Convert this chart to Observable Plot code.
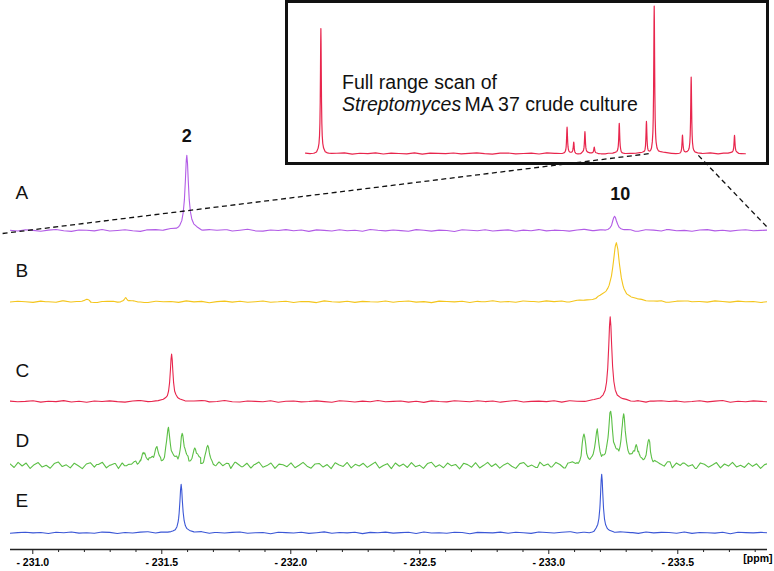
<!DOCTYPE html>
<html><head><meta charset="utf-8">
<script src="https://cdn.jsdelivr.net/npm/d3@7"></script>
<script src="https://cdn.jsdelivr.net/npm/@observablehq/plot@0.6"></script>
<style>
body{margin:0;background:#fff;}
#wrap{position:relative;width:774px;height:571px;overflow:hidden;font-family:"Liberation Sans",Arial,sans-serif;}
#inset{position:absolute;left:285px;top:0;width:484px;height:165px;border:3px solid #111;box-sizing:border-box;background:#fff;}
#main{position:absolute;left:0;top:0;}
#main svg g[aria-label="x-axis tick label"] text{font-weight:bold;}
</style></head><body>
<div id="wrap"><div id="inset"></div><div id="main"></div></div>
<script>
// ---------- data ----------
const traceNames = ["A", "B", "C", "D", "E"];
const traceColors = ["#b25ce6", "#f4c51c", "#e8264d", "#5bbf45", "#3b57d6"];
const majorTicks = [-231.0, -231.5, -232.0, -232.5, -233.0, -233.5];
const minorTicks = [-231.1, -231.2, -231.3, -231.4, -231.6, -231.7, -231.8, -231.9,
  -232.1, -232.2, -232.3, -232.4, -232.6, -232.7, -232.8, -232.9,
  -233.1, -233.2, -233.3, -233.4, -233.6, -233.7, -233.8];

// peaks: [ppm, height, half-width (ppm)]
const peaksA = [[-231.597, 75, 0.0078], [-233.255, 13.5, 0.010]];
const peaksB = [[-231.21, 2, 0.008], [-231.36, 4, 0.006], [-233.262, 57.5, 0.016], [-233.22, 3, 0.04]];
const peaksC = [[-231.538, 48.3, 0.0065], [-233.238, 85.3, 0.0078]];
const peaksD = [[-231.428, 15, 0.009], [-231.479, 17, 0.009], [-231.526, 34, 0.009], [-231.579, 30, 0.009],
  [-231.628, 16, 0.009], [-231.678, 18, 0.009],
  [-233.136, 27, 0.009], [-233.188, 32, 0.009], [-233.240, 53, 0.009], [-233.290, 51, 0.009],
  [-233.339, 21, 0.009], [-233.388, 22, 0.009]];
const peaksE = [[-231.575, 49, 0.0065], [-233.205, 58, 0.006]];

// baseline noise (px)
const noiseA = [0.3,-0.5,0.8,0.1,-0.7,0.4,1.0,-0.2,-0.9,0.5,0.2,-0.4,0.9,-0.6,0.0,0.7,-0.3,-1.0,0.4,0.6,
  -0.2,0.8,-0.5,0.1,0.9,-0.8,0.3,-0.1,0.6,-0.6,0.2,1.1,-0.4,-0.7,0.5,0.0,0.8,-0.3,0.4,-0.9,
  0.6,0.1,-0.5,0.7,-0.2,0.3,-0.8,1.0,0.2,-0.4,0.5,-0.1,-0.7,0.9,0.3,-0.6,0.4,0.0,-1.0,0.7,
  0.2,-0.3,0.8,-0.5,0.1,0.6,-0.8,0.4,-0.2,0.9,-0.4,0.3,0.0,-0.7,0.5,1.0,-0.3,0.2,-0.6,0.7,
  -0.1,0.4,-0.9,0.6,0.3,-0.5,0.8,-0.2,0.1,-0.7,0.5,0.9,-0.4,0.2,-0.6,0.3,0.7,-0.3,0.1,0.4];
const noiseB = [-0.2,0.5,0.1,-0.6,0.7,0.0,-0.4,0.9,-0.3,0.2,0.6,-0.8,0.3,0.4,-0.5,0.1,0.8,-0.2,-0.7,0.5,
  0.0,0.3,-0.6,0.9,-0.1,0.4,-0.9,0.2,0.7,-0.3,0.5,-0.5,0.1,0.8,-0.4,0.0,0.6,-0.7,0.3,0.2,
  -0.8,0.9,0.1,-0.3,0.5,-0.6,0.4,0.0,-0.2,0.7,-0.5,0.3,0.8,-0.4,0.1,-0.9,0.6,0.2,-0.1,0.5,
  -0.7,0.4,0.0,0.9,-0.3,0.2,-0.6,0.7,0.1,-0.4,0.6,-0.2,0.3,-0.8,0.5,0.1,-0.5,0.8,-0.1,0.2,
  -0.6,0.4,0.7,-0.3,0.0,0.5,-0.9,0.3,0.6,-0.2,0.1,-0.5,0.8,0.2,-0.4,0.6,-0.1,0.3,-0.7,0.2];
const noiseC = [0.4,-0.3,0.1,0.7,-0.6,0.2,-0.1,0.9,-0.5,0.3,-0.8,0.5,0.0,0.6,-0.2,-0.7,0.4,0.8,-0.4,0.1,
  0.3,-0.9,0.6,-0.1,0.2,0.7,-0.5,0.0,0.9,-0.3,-0.6,0.4,0.1,-0.2,0.8,-0.7,0.3,0.5,-0.4,0.0,
  0.6,-0.1,-0.8,0.7,0.2,-0.5,0.4,-0.3,1.0,-0.2,0.1,0.5,-0.6,0.3,-0.9,0.6,0.0,-0.4,0.8,0.2,
  -0.3,0.7,-0.1,0.4,-0.7,0.2,0.9,-0.5,0.1,0.3,-0.2,0.6,-0.8,0.5,0.0,-0.4,0.7,0.3,-0.6,0.1,
  0.8,-0.3,0.4,-0.9,0.2,0.6,-0.1,0.5,-0.5,0.0,0.7,-0.4,0.3,0.9,-0.7,0.2,-0.2,0.6,0.1,-0.3];
const noiseD = [1.5,-2.0,3.1,-0.5,2.4,-3.0,0.8,2.9,-1.6,0.2,-2.8,1.9,3.5,-1.1,0.6,-2.4,2.2,-0.3,-3.2,1.4,
  2.7,-1.8,0.9,3.0,-2.5,0.1,1.7,-3.4,2.0,-0.8,0.4,2.6,-1.3,-2.9,1.1,3.3,-0.6,0.7,-2.2,2.5,
  -1.0,1.8,-3.1,0.3,2.8,-1.7,-0.4,3.2,-2.6,1.2,0.0,-2.1,2.3,-0.9,1.6,-3.3,2.9,0.5,-1.4,2.1,
  -2.7,0.8,3.4,-1.9,-0.2,2.4,-3.0,1.3,0.6,-1.2,2.6,-2.3,0.2,3.1,-0.7,-2.8,1.5,2.0,-1.6,0.9,
  -3.2,2.7,0.4,-1.0,3.0,-2.4,1.1,-0.5,2.2,-1.9,0.7,3.3,-2.6,0.0,1.8,-3.1,2.5,-0.8,1.4,-2.0,
  2.9,-1.2,0.3,-2.9,1.9,3.2,-1.5,0.6,-2.3,2.4,-0.4,1.0,-3.4,2.1,0.8,-1.8,2.7,-2.5,0.1,3.0,
  -1.1,1.6,-2.7,0.5,2.3,-0.9,-3.0,1.7,2.8,-1.4,0.2,-2.2,3.1,-0.6,1.2,-1.9,2.6,0.4,-3.3,1.5,
  2.0,-0.8,-2.6,2.9,-1.3,0.7,1.8,-2.8,0.3,2.5,-1.7,3.4,-0.2,-2.1,1.0,2.2,-3.1,0.9,-0.5,2.7,
  -2.4,1.3,0.1,-1.6,3.0,-2.9,1.9,-0.3,2.1,-1.0,0.6,-3.2,2.4,1.1,-1.8,0.4,2.8,-2.5,1.4,-0.7,
  3.1,-1.5,0.2,-2.0,2.3,-0.9,1.6,-3.0,0.8,2.0];
const noiseE = [-0.4,0.2,0.6,-0.1,0.3,-0.7,0.5,0.0,0.8,-0.3,0.1,-0.5,0.7,0.4,-0.8,0.2,-0.2,0.6,0.9,-0.4,
  0.3,-0.1,-0.6,0.5,0.1,0.8,-0.7,0.2,-0.3,0.4,0.7,-0.5,0.0,0.3,-0.9,0.6,0.2,-0.2,0.5,-0.6,
  0.1,0.9,-0.4,0.3,-0.1,0.6,-0.8,0.4,0.0,0.7,-0.3,0.2,0.5,-0.7,0.8,-0.2,0.1,-0.5,0.6,0.3,
  -0.9,0.4,0.2,-0.1,0.7,-0.4,0.5,0.0,-0.6,0.8,0.2,-0.3,0.4,0.9,-0.5,0.1,-0.8,0.6,0.3,-0.2,
  0.5,0.0,-0.7,0.7,-0.1,0.4,0.2,-0.4,0.8,-0.6,0.3,0.1,-0.3,0.6,-0.9,0.5,0.2,-0.1,0.4,0.0];
const noiseRange = [-230.912, -233.852];

// inset: full range scan
const insetPeaks = [[-209.66, 124.3, 0.035], [-225.51, 25.9, 0.035], [-225.94, 10.9, 0.035],
  [-226.66, 21.2, 0.035], [-227.26, 6.1, 0.035], [-228.87, 29.6, 0.035], [-230.62, 31.9, 0.035],
  [-231.12, 146.9, 0.035], [-232.94, 18.5, 0.035], [-233.50, 76.3, 0.035], [-236.29, 17.5, 0.035]];
const insetNoise = [0.3,-0.4,0.6,-0.2,0.1,0.5,-0.6,0.2,-0.1,0.7,-0.5,0.3,0.0,-0.3,0.6,-0.7,0.4,0.1,-0.2,0.5,
  -0.4,0.2,0.7,-0.1,-0.6,0.3,0.5,-0.3,0.0,0.4,-0.5,0.6,0.1,-0.2,0.3,-0.7,0.5,0.2,-0.4,0.1,
  0.6,-0.3,0.0,0.4,-0.6,0.2,0.7,-0.1,-0.5,0.3,0.1,-0.2,0.5,-0.4,0.2,0.6,-0.3];
const insetRange = [-208.67, -236.74];
const insetText1 = "Full range scan of";
const insetText2a = "Streptomyces";
const insetText2b = "MA 37 crude culture";
const zoomWindow = [-230.883, -233.844];
const peakLabels = [{label: "2", ppm: -231.597}, {label: "10", ppm: -233.255}];

// ---------- layout ----------
const mainDomain = [-230.9136, -233.8477];
const mainRange = [10, 767];
const traceOffset = {A: 319, B: 247.7, C: 148, D: 84, E: 16.7};
const traceLabelY = {A: 356.8, B: 278.6, C: 178.1, D: 108.4, E: 48.1};
const peakLabelY = {"2": 412.8, "10": 354.8};
const connectorLift = [-3, 4];
const peakOffsets = [-20,-12,-8,-5,-3.5,-2.5,-1.8,-1.2,-0.7,-0.35,0,0.35,0.7,1.2,1.8,2.5,3.5,5,8,12,20];
const font = "Liberation Sans, Arial, sans-serif";

function buildTrace(name, noise, peaks, range) {
  const n = noise.length;
  const step = (range[1] - range[0]) / (n - 1);
  const pts = noise.map((_, i) => range[0] + i * step);
  for (const [c, , w] of peaks) for (const k of peakOffsets) pts.push(c + k * w);
  pts.sort((a, b) => b - a);
  return pts.map(p => {
    const i = Math.max(0, Math.min(n - 1, Math.round((p - range[0]) / step)));
    let v = noise[i];
    for (const [c, h, w] of peaks) { const u = (p - c) / w; v += h / (1 + u * u); }
    return {trace: name, ppm: p, value: v};
  });
}

const traceInputs = {A: [noiseA, peaksA], B: [noiseB, peaksB], C: [noiseC, peaksC], D: [noiseD, peaksD], E: [noiseE, peaksE]};
const mainData = traceNames.flatMap(t => buildTrace(t, traceInputs[t][0], traceInputs[t][1], noiseRange));
const insetData = buildTrace("inset", insetNoise, insetPeaks, insetRange);

// ---------- inset ----------
const inset = Plot.plot({
  width: 478, height: 159,
  marginLeft: 17, marginRight: 25, marginTop: 0, marginBottom: 9,
  style: {background: "white", fontFamily: font, color: "#111", overflow: "visible"},
  x: {domain: insetRange, axis: null},
  y: {domain: [0, 150], axis: null},
  marks: [
    Plot.line(insetData, {x: "ppm", y: "value", stroke: "#e8264d", strokeWidth: 1.2}),
    Plot.text([insetText1], {frameAnchor: "top-left", textAnchor: "start", dx: 36.5, dy: 71.4, fontSize: 19.5, fill: "#111"}),
    Plot.text([insetText2a], {frameAnchor: "top-left", textAnchor: "start", dx: 36.5, dy: 93.3, fontSize: 19.5, fontStyle: "italic", fill: "#111"}),
    Plot.text([insetText2b], {frameAnchor: "top-left", textAnchor: "start", dx: 159, dy: 93.3, fontSize: 19.5, fill: "#111"})
  ]
});
document.getElementById("inset").appendChild(inset);

// ---------- connectors via scales ----------
const wrapBox = document.getElementById("wrap").getBoundingClientRect();
const insetBox = inset.getBoundingClientRect();
const ox = insetBox.left - wrapBox.left, oy = insetBox.top - wrapBox.top;
const mX = Plot.scale({x: {domain: mainDomain, range: mainRange}});
const mY = Plot.scale({y: {domain: [0, 549], range: [549, 0]}});
const iX = inset.scale("x"), iY = inset.scale("y");
const connectors = zoomWindow.map((p, i) => ({
  x1: p, y1: traceOffset.A + connectorLift[i],
  x2: mX.invert(ox + iX.apply(p)),
  y2: mY.invert(oy + iY.apply(0))
}));

// ---------- main ----------
const main = Plot.plot({
  width: 774, height: 571,
  marginLeft: 10, marginRight: 7, marginTop: 0, marginBottom: 22,
  style: {background: "transparent", fontFamily: font, color: "#111", overflow: "visible"},
  x: {domain: mainDomain, range: mainRange},
  y: {domain: [0, 549], range: [549, 0], axis: null},
  color: {domain: traceNames, range: traceColors},
  marks: [
    Plot.ruleY([0], {stroke: "#222", strokeWidth: 1.3}),
    Plot.axisX(minorTicks, {tickSize: 3, tickFormat: () => "", label: null, stroke: "#222"}),
    Plot.axisX(majorTicks, {tickSize: 5, tickPadding: 4, label: null, stroke: "#222", fill: "#000",
      fontSize: 10.5, fontWeight: "bold", tickFormat: d => "- " + (-d).toFixed(1)}),
    Plot.line(mainData, {x: "ppm", y: d => traceOffset[d.trace] + d.value, z: "trace", stroke: "trace", strokeWidth: 1.1, clip: true}),
    Plot.text(traceNames, {frameAnchor: "left", y: d => traceLabelY[d], text: d => d, dx: 5, textAnchor: "start", fontSize: 19, fill: "#111"}),
    Plot.text(peakLabels.filter(d => d.label === "2"), {x: "ppm", y: d => peakLabelY[d.label], text: "label", fontSize: 18, fontWeight: "bold", fill: "#111"}),
    Plot.text(peakLabels.filter(d => d.label === "10"), {x: "ppm", y: d => peakLabelY[d.label], text: "label", dx: 5.6, fontSize: 18, fontWeight: "bold", fill: "#111"}),
    Plot.text(["[ppm]"], {frameAnchor: "bottom-right", textAnchor: "end", dx: 5, dy: 12.8, fontSize: 10.5, fontWeight: "bold", fill: "#000"}),
    Plot.link(connectors, {x1: "x1", y1: "y1", x2: "x2", y2: "y2", stroke: "#111", strokeWidth: 1.3, strokeDasharray: "5,3.5"})
  ]
});
document.getElementById("main").appendChild(main);
</script>
</body></html>
